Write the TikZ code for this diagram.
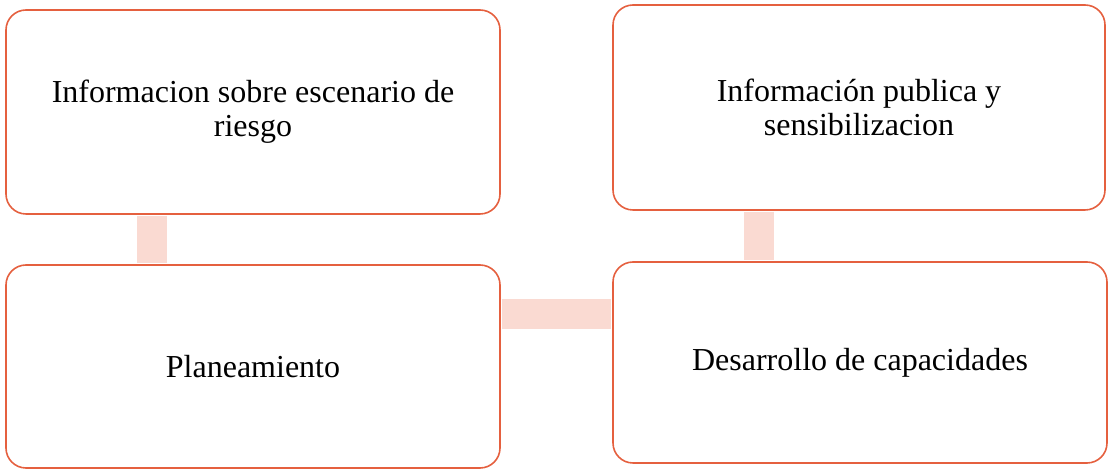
\documentclass[tikz,border=0pt]{standalone}
\usepackage{fontspec}
\setmainfont{Liberation Serif}
\definecolor{edge}{HTML}{E5603F}
\definecolor{barfill}{HTML}{FADAD2}
\begin{document}
\begin{tikzpicture}[x=1pt,y=1pt,
  boxnode/.style={draw=edge,line width=1.6pt,rounded corners=20pt,fill=white,
    align=center,font=\fontsize{32}{34}\selectfont,inner sep=0pt},
  bar/.style={draw=barfill,line width=30pt}]
\useasboundingbox (0,0) rectangle (1111,473);
\node[boxnode,minimum width=494pt,minimum height=204pt] (b1) at (253,361) {Informacion sobre escenario de\\riesgo};
\node[boxnode,minimum width=494pt,minimum height=203pt] (b2) at (253,106.5) {Planeamiento};
\node[boxnode,minimum width=492pt,minimum height=205pt] (b3) at (859,365.5) {Información publica y\\sensibilizacion};
\node[boxnode,minimum width=494pt,minimum height=201pt] (b4) at (860,110.5) {Desarrollo de capacidades};
\draw[bar] ([xshift=-101pt,yshift=-0.8pt]b1.south) -- ([xshift=-101pt,yshift=0.8pt]b2.north);
\draw[bar] ([xshift=-100pt,yshift=-0.8pt]b3.south) -- ([xshift=-101pt,yshift=0.8pt]b4.north);
\draw[bar] ([xshift=0.8pt,yshift=52.5pt]b2.east) -- ([xshift=-0.8pt,yshift=52.5pt]b2.east -| b4.west);
\end{tikzpicture}
\end{document}
